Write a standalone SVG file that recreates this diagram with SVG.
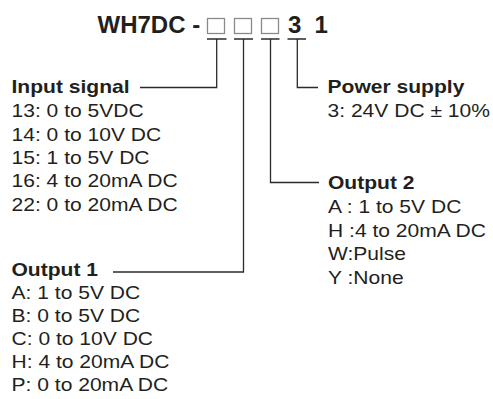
<svg xmlns="http://www.w3.org/2000/svg" width="493" height="399" viewBox="0 0 493 399">
<style>
text{font-family:"Liberation Sans",Arial,Helvetica,sans-serif;fill:#231f20}
.t{font-size:24px;font-weight:bold}
.h{font-size:18px;font-weight:bold}
.r{font-size:18px}
.box{fill:none;stroke:#8a8a8a;stroke-width:1.3}
.ln{fill:none;stroke:#2b2b2b;stroke-width:1.3}
</style>
<rect width="493" height="399" fill="#ffffff"/>
<g id="title">
<text class="t" x="97.5" y="33.3">WH7DC -</text>
<rect class="box" x="207.5" y="18.5" width="17" height="15"/>
<rect class="box" x="234.5" y="18.5" width="17" height="15"/>
<rect class="box" x="261.5" y="18.5" width="17" height="15"/>
<text class="t" x="288" y="33.3">3</text>
<text class="t" x="314.5" y="33.3">1</text>
</g>
<g id="connectors">
<path class="ln" d="M207,39H226.5M216.7,39V87.5H140"/>
<path class="ln" d="M234,39H253M243.5,39V272H113"/>
<path class="ln" d="M261,39H279.5M270.5,39V182.5H319"/>
<path class="ln" d="M287.5,39H306M297.3,39V87.5H318"/>
</g>
<g id="input-signal" transform="translate(11.5,0) scale(1.17,1)">
<text class="h" x="0" y="92.8">Input signal</text>
<text class="r" x="0" y="117.2">13: 0 to 5VDC</text>
<text class="r" x="0" y="140.6">14: 0 to 10V DC</text>
<text class="r" x="0" y="164">15: 1 to 5V DC</text>
<text class="r" x="0" y="187.4">16: 4 to 20mA DC</text>
<text class="r" x="0" y="210.8">22: 0 to 20mA DC</text>
</g>
<g id="output-1" transform="translate(11.5,0) scale(1.17,1)">
<text class="h" x="0" y="276.5">Output 1</text>
<text class="r" x="0" y="299.5">A: 1 to 5V DC</text>
<text class="r" x="0" y="322.5">B: 0 to 5V DC</text>
<text class="r" x="0" y="345.5">C: 0 to 10V DC</text>
<text class="r" x="0" y="368.5">H: 4 to 20mA DC</text>
<text class="r" x="0" y="391.5">P: 0 to 20mA DC</text>
</g>
<g id="power-supply" transform="translate(327.5,0) scale(1.17,1)">
<text class="h" x="0" y="93">Power supply</text>
<text class="r" x="0" y="117">3: 24V DC ± 10%</text>
</g>
<g id="output-2" transform="translate(328,0) scale(1.17,1)">
<text class="h" x="0" y="189">Output 2</text>
<text class="r" x="0" y="212.8">A : 1 to 5V DC</text>
<text class="r" x="0" y="236.6">H :4 to 20mA DC</text>
<text class="r" x="0" y="260.4">W:Pulse</text>
<text class="r" x="0" y="284.2">Y :None</text>
</g>
</svg>
